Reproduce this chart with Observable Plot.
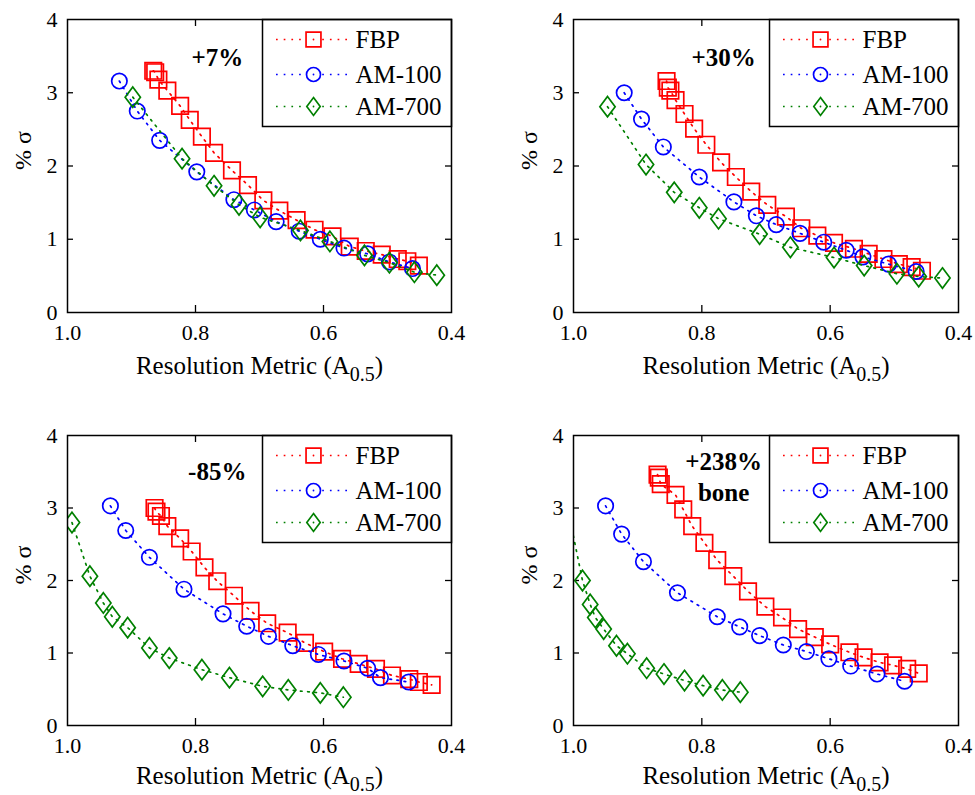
<!DOCTYPE html>
<html>
<head>
<meta charset="utf-8">
<script src="https://cdn.jsdelivr.net/npm/d3@7"></script>
<script src="https://cdn.jsdelivr.net/npm/@observablehq/plot@0.6"></script>
<style>
  body { margin: 0; background: #fff; }
  #fig { position: relative; width: 975px; height: 795px; background: #fff;
         font-family: "Liberation Serif", "Times New Roman", serif; }
  #fig > .panel { position: absolute; }
</style>
</head>
<body>
<div id="fig"></div>
<script>
// Axes
const xTicks = [1.0, 0.8, 0.6, 0.4];
const yTicks = [0, 1, 2, 3, 4];
const xLabel = "Resolution Metric (A0.5)";
const yLabel = "% \u03c3";
const seriesNames = ["FBP", "AM-100", "AM-700"];

// Contrast annotations, one list of lines per panel
const panelNotes = [["+7%"], ["+30%"], ["-85%"], ["+238%", "bone"]];
const noteX = 0.766;
const noteY = [[3.48], [3.48], [3.49], [3.63, 3.21]];

// Panel 1 (+7%)
const p1FbpX = [0.866, 0.863, 0.858, 0.844, 0.824, 0.809, 0.790, 0.771, 0.743, 0.718, 0.694, 0.669, 0.642, 0.614, 0.586, 0.559, 0.534, 0.509, 0.484, 0.469, 0.451];
const p1FbpY = [3.30, 3.28, 3.18, 3.03, 2.82, 2.63, 2.40, 2.18, 1.94, 1.74, 1.53, 1.39, 1.26, 1.13, 1.04, 0.90, 0.84, 0.79, 0.73, 0.70, 0.64];
const p1Am100X = [0.919, 0.891, 0.856, 0.798, 0.740, 0.708, 0.674, 0.638, 0.605, 0.568, 0.531, 0.497, 0.461];
const p1Am100Y = [3.16, 2.75, 2.35, 1.92, 1.54, 1.40, 1.24, 1.11, 1.00, 0.88, 0.80, 0.69, 0.60];
const p1Am700X = [0.898, 0.821, 0.771, 0.732, 0.699, 0.636, 0.590, 0.536, 0.497, 0.458, 0.423];
const p1Am700Y = [2.94, 2.10, 1.73, 1.47, 1.30, 1.12, 0.97, 0.78, 0.68, 0.55, 0.51];

// Panel 2 (+30%)
const p2FbpX = [0.855, 0.853, 0.849, 0.841, 0.827, 0.812, 0.793, 0.770, 0.747, 0.723, 0.698, 0.669, 0.645, 0.620, 0.594, 0.563, 0.540, 0.517, 0.493, 0.473, 0.457];
const p2FbpY = [3.16, 3.07, 3.03, 2.90, 2.71, 2.51, 2.29, 2.05, 1.85, 1.65, 1.47, 1.31, 1.15, 1.05, 0.95, 0.87, 0.80, 0.73, 0.66, 0.62, 0.57];
const p2Am100X = [0.921, 0.894, 0.860, 0.804, 0.750, 0.715, 0.684, 0.647, 0.610, 0.575, 0.549, 0.509, 0.466];
const p2Am100Y = [3.00, 2.64, 2.26, 1.85, 1.51, 1.32, 1.20, 1.08, 0.96, 0.85, 0.76, 0.66, 0.56];
const p2Am700X = [0.947, 0.887, 0.843, 0.804, 0.774, 0.710, 0.662, 0.594, 0.547, 0.496, 0.462, 0.425];
const p2Am700Y = [2.81, 2.02, 1.64, 1.43, 1.28, 1.07, 0.89, 0.75, 0.64, 0.53, 0.49, 0.47];

// Panel 3 (-85%)
const p3FbpX = [0.864, 0.861, 0.854, 0.844, 0.824, 0.806, 0.786, 0.766, 0.740, 0.714, 0.688, 0.656, 0.629, 0.599, 0.571, 0.545, 0.518, 0.493, 0.466, 0.451, 0.431];
const p3FbpY = [3.00, 2.95, 2.89, 2.75, 2.58, 2.40, 2.18, 1.99, 1.79, 1.58, 1.41, 1.28, 1.14, 1.02, 0.92, 0.85, 0.78, 0.69, 0.64, 0.60, 0.56];
const p3Am100X = [0.933, 0.909, 0.872, 0.818, 0.757, 0.720, 0.686, 0.648, 0.608, 0.568, 0.531, 0.511, 0.467];
const p3Am100Y = [3.03, 2.69, 2.32, 1.88, 1.54, 1.37, 1.23, 1.10, 0.98, 0.89, 0.79, 0.66, 0.60];
const p3Am700X = [0.993, 0.965, 0.944, 0.930, 0.906, 0.872, 0.841, 0.790, 0.747, 0.695, 0.655, 0.605, 0.569];
const p3Am700Y = [2.80, 2.06, 1.69, 1.50, 1.35, 1.07, 0.93, 0.77, 0.66, 0.54, 0.49, 0.45, 0.39];

// Panel 4 (+238% bone)
const p4FbpX = [0.869, 0.867, 0.864, 0.841, 0.829, 0.815, 0.796, 0.776, 0.751, 0.728, 0.701, 0.675, 0.650, 0.624, 0.600, 0.570, 0.548, 0.523, 0.502, 0.480, 0.462];
const p4FbpY = [3.46, 3.42, 3.33, 3.18, 2.98, 2.75, 2.52, 2.28, 2.06, 1.85, 1.64, 1.49, 1.33, 1.22, 1.12, 1.01, 0.94, 0.87, 0.83, 0.78, 0.72];
const p4Am100X = [0.950, 0.925, 0.891, 0.838, 0.776, 0.741, 0.710, 0.673, 0.637, 0.602, 0.568, 0.527, 0.484];
const p4Am100Y = [3.03, 2.64, 2.26, 1.83, 1.50, 1.36, 1.24, 1.11, 1.02, 0.92, 0.82, 0.71, 0.61];
const p4Am700X = [1.016, 0.986, 0.974, 0.966, 0.953, 0.933, 0.916, 0.886, 0.859, 0.827, 0.798, 0.768, 0.740];
const p4Am700Y = [3.30, 2.00, 1.67, 1.49, 1.33, 1.10, 0.99, 0.79, 0.71, 0.62, 0.55, 0.49, 0.46];

const panelSeries = [
  [[p1FbpX, p1FbpY], [p1Am100X, p1Am100Y], [p1Am700X, p1Am700Y]],
  [[p2FbpX, p2FbpY], [p2Am100X, p2Am100Y], [p2Am700X, p2Am700Y]],
  [[p3FbpX, p3FbpY], [p3Am100X, p3Am100Y], [p3Am700X, p3Am700Y]],
  [[p4FbpX, p4FbpY], [p4Am100X, p4Am100Y], [p4Am700X, p4Am700Y]]
];

// Tall diamond marker (narrower than it is high)
const diamond = {
  draw(ctx, size) {
    const h = Math.sqrt(size) * 0.72, w = h * 0.75;
    ctx.moveTo(0, -h); ctx.lineTo(w, 0); ctx.lineTo(0, h); ctx.lineTo(-w, 0); ctx.closePath();
  }
};
const colors = ["#ff0000", "#0000ff", "#008000"];
const symbols = ["square", "circle", diamond];
const markerR = [9.3, 7.7, 8];
const legendR = [8.4, 7, 7];

// Layout of the 2x2 grid
const boxes = [
  {left: 0,   top: 0,   width: 481, height: 392, mt: 19, mb: 80, ml: 67, mr: 30, labelDy: 61},
  {left: 506, top: 0,   width: 469, height: 392, mt: 19, mb: 80, ml: 67, mr: 17, labelDy: 61},
  {left: 0,   top: 416, width: 481, height: 379, mt: 19, mb: 70, ml: 67, mr: 30, labelDy: 58},
  {left: 506, top: 416, width: 469, height: 379, mt: 19, mb: 70, ml: 67, mr: 17, labelDy: 58}
];

function makePanel(series, notes, noteYs, box) {
  const ih = box.height - box.mt - box.mb;
  const iw = box.width - box.ml - box.mr;
  const marks = [];

  // inward tick marks on all four sides
  const xInner = xTicks.slice(1, -1), yInner = yTicks.slice(1, -1);
  marks.push(
    Plot.tickX(xInner, {insetTop: ih - 7, stroke: "black", strokeWidth: 1.3}),
    Plot.tickX(xInner, {insetBottom: ih - 7, stroke: "black", strokeWidth: 1.3}),
    Plot.tickY(yInner, {insetRight: iw - 6, stroke: "black", strokeWidth: 1.3}),
    Plot.tickY(yInner, {insetLeft: iw - 6, stroke: "black", strokeWidth: 1.3})
  );

  // dotted lines with open markers, one series at a time
  series.forEach(([xs, ys], i) => {
    const pts = xs.map((x, j) => ({x, y: ys[j]}));
    marks.push(
      Plot.line(pts, {x: "x", y: "y", stroke: colors[i], strokeWidth: 1.7,
                      strokeDasharray: "1.7,5.5", clip: true}),
      Plot.dot(pts, {x: "x", y: "y", symbol: symbols[i], r: markerR[i], fill: "none",
                     stroke: colors[i], strokeWidth: 1.7, clip: true})
    );
  });

  // annotation
  const noteRows = notes.map((t, k) => ({x: noteX, y: noteYs[k], t}));
  marks.push(Plot.text(noteRows, {x: "x", y: "y", text: "t", fontWeight: "bold",
                                  fontSize: 25, lineAnchor: "middle", fill: "black"}));

  // legend box in the upper right corner
  const legendW = 189, legendH = 107;
  const rowDy = [20, 55, 87];
  marks.push(Plot.frame({insetLeft: iw - legendW, insetBottom: ih - legendH,
                         fill: "white", stroke: "black", strokeWidth: 1.5}));
  seriesNames.forEach((name, i) => {
    marks.push(
      Plot.ruleY([yTicks[yTicks.length - 1]], {dy: rowDy[i], insetLeft: iw - 175, insetRight: 101,
                      stroke: colors[i], strokeWidth: 1.7, strokeDasharray: "1.7,6"}),
      Plot.dot([name], {frameAnchor: "top-right", dx: -138, dy: rowDy[i], symbol: symbols[i],
                        r: legendR[i], fill: "white", stroke: colors[i], strokeWidth: 1.7}),
      Plot.dot([name], {frameAnchor: "top-right", dx: -138, dy: rowDy[i], r: 0.9, fill: colors[i]}),
      Plot.text([name], {frameAnchor: "top-right", dx: -96, dy: rowDy[i], text: d => d,
                         textAnchor: "start", lineAnchor: "middle", fontSize: 25, fill: "black"})
    );
  });

  // axes and their titles
  marks.push(
    Plot.axisX({ticks: xTicks, tickFormat: d3.format(".1f"), tickSize: 0, tickPadding: 12,
                fontSize: 22, label: null}),
    Plot.axisY({ticks: yTicks, tickFormat: d3.format("d"), tickSize: 0, tickPadding: 10,
                fontSize: 22, label: null}),
    Plot.text([yLabel], {frameAnchor: "left", dx: -44, dy: 4, rotate: -90, text: d => d,
                         fontSize: 24, lineAnchor: "middle", fill: "black"}),
    Plot.text([xLabel], {frameAnchor: "bottom", dy: box.labelDy, text: d => d, fontSize: 25,
                         lineAnchor: "bottom", fill: "black"}),
    Plot.frame({stroke: "black", strokeWidth: 1.5})
  );

  const svg = Plot.plot({
    width: box.width, height: box.height,
    marginTop: box.mt, marginBottom: box.mb, marginLeft: box.ml, marginRight: box.mr,
    x: {domain: [xTicks[0], xTicks[xTicks.length - 1]]},
    y: {domain: [yTicks[0], yTicks[yTicks.length - 1]]},
    style: {fontFamily: "'Liberation Serif', 'Times New Roman', serif", fontSize: "22px",
            color: "black", background: "white", overflow: "visible"},
    marks
  });

  // subscript for A0.5 in the x-axis title
  d3.select(svg).selectAll("text")
    .filter(function() { return this.textContent === xLabel; })
    .each(function() {
      const t = d3.select(this);
      t.text(null);
      t.append("tspan").text("Resolution Metric (A");
      t.append("tspan").attr("dy", 7).attr("font-size", 20).text("0.5");
      t.append("tspan").attr("dy", -7).text(")");
    });
  return svg;
}

const fig = document.getElementById("fig");
boxes.forEach((box, k) => {
  const holder = document.createElement("div");
  holder.className = "panel";
  holder.style.left = box.left + "px";
  holder.style.top = box.top + "px";
  holder.appendChild(makePanel(panelSeries[k], panelNotes[k], noteY[k], box));
  fig.appendChild(holder);
});
</script>
</body>
</html>
